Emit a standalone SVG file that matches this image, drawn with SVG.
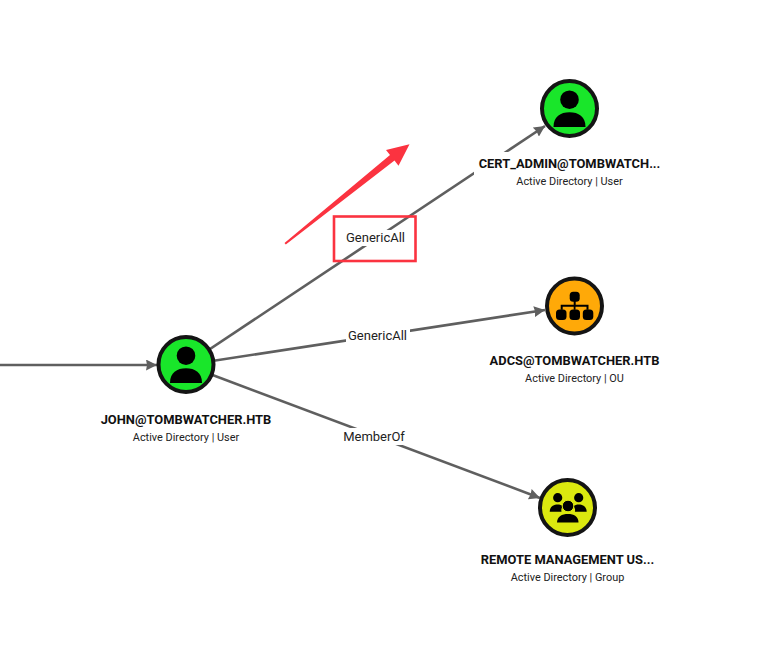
<svg xmlns="http://www.w3.org/2000/svg" width="760" height="663" viewBox="0 0 760 663">
<style>
text{font-family:Roboto,"Liberation Sans",sans-serif;text-anchor:middle}
.t{font-size:12.9px;font-weight:700;fill:#111}
.s{font-size:10.9px;fill:#222}
.l{font-size:13px;fill:#222}
.e{stroke:#5f5f5f;stroke-width:2.6;fill:none;marker-end:url(#a)}
.n{stroke:#141414;stroke-width:4}
.i{fill:#000}
.w{fill:#fff}
</style>
<defs><marker id="a" markerUnits="userSpaceOnUse" markerWidth="11" markerHeight="11" refX="11" refY="5.500" orient="auto"><path d="M0 0L11 5.500L0 11L1 5.500Z" fill="#5f5f5f"/></marker>
<g id="u"><circle cx="0" cy="-8.800" r="9.300" class="i"/><path class="i" d="M-16 18.500C-16 8-9 3.800 0 3.800S16 8 16 18.500Z"/></g></defs>
<rect width="760" height="663" fill="#fff"/>
<g id="connectors">
<path class="e" d="M0 365H157"/>
<path class="e" d="M186 365L545 126"/>
<path class="e" d="M186 365L545 310"/>
<path class="e" d="M186 365L540 498"/>
<rect class="w" x="345" y="230" width="60" height="16"/>
<rect class="w" x="346" y="327" width="64" height="17"/>
<rect class="w" x="340" y="428" width="68" height="17"/>
<text class="l" x="375.500" y="242">GenericAll</text>
<text class="l" x="377.500" y="340">GenericAll</text>
<text class="l" x="374" y="441">MemberOf</text>
</g>
<g id="john"><circle class="n" cx="186" cy="364.500" r="27.500" fill="#19e62a"/><use href="#u" x="186" y="364.500"/><text class="t" x="186" y="424">JOHN@TOMBWATCHER.HTB</text><text class="s" x="186" y="441">Active Directory | User</text></g>
<g id="cert"><rect class="w" x="474" y="152" width="191" height="24"/><circle class="n" cx="569.500" cy="108.500" r="27.500" fill="#19e62a"/><use href="#u" x="569.500" y="108.500"/><text class="t" x="569.500" y="168">CERT_ADMIN@TOMBWATCH...</text><text class="s" x="569.500" y="185">Active Directory | User</text></g>
<g id="adcs"><circle class="n" cx="574.500" cy="306" r="27.500" fill="#ffa908"/>
<g class="i"><rect x="569.700" y="291.700" width="10" height="10" rx="3.500"/><rect x="556" y="309.500" width="10.500" height="10.500" rx="3.500"/><rect x="569.500" y="309.500" width="10.500" height="10.500" rx="3.500"/><rect x="582.800" y="309.500" width="10.500" height="10.500" rx="3.500"/><path d="M573.700 301h2v3.800h12.800v5h-2v-3h-11v3h-1.800v-3h-11v3h-2v-5h13z"/></g>
<text class="t" x="574.500" y="365">ADCS@TOMBWATCHER.HTB</text><text class="s" x="574.500" y="382">Active Directory | OU</text></g>
<g id="remote"><circle class="n" cx="567.500" cy="507.500" r="27.500" fill="#dbe80f"/>
<g class="i"><circle cx="557.700" cy="497.700" r="4.600"/><circle cx="578.700" cy="497.700" r="4.600"/><path d="M549.700 511.700c0-5 4-7.200 8-7.200 2 0 4 .5 5.300 1.700-1.500 1.500-2 3.500-1.500 5.500z"/><path d="M586.700 511.700c0-5-4-7.200-8-7.200-2 0-4 .5-5.300 1.700 1.500 1.500 2 3.500 1.500 5.500z"/><circle cx="568" cy="506" r="5.800" stroke="#dbe80f" stroke-width="1"/><path d="M557 522.500c0-6 5-8.500 11-8.500s10.500 2.500 10.500 8.500z"/></g>
<text class="t" x="567.500" y="564">REMOTE MANAGEMENT US...</text><text class="s" x="567.500" y="581">Active Directory | Group</text></g>
<g id="annotation"><rect x="334" y="216.500" width="81.500" height="44.500" fill="none" stroke="#fb3340" stroke-width="2.600"/><path d="M284.500 243L390 155L386 150L409.500 144.300L398.500 165.800L394.500 160.500L285.800 244.500Z" fill="#fb3340"/></g>
</svg>
